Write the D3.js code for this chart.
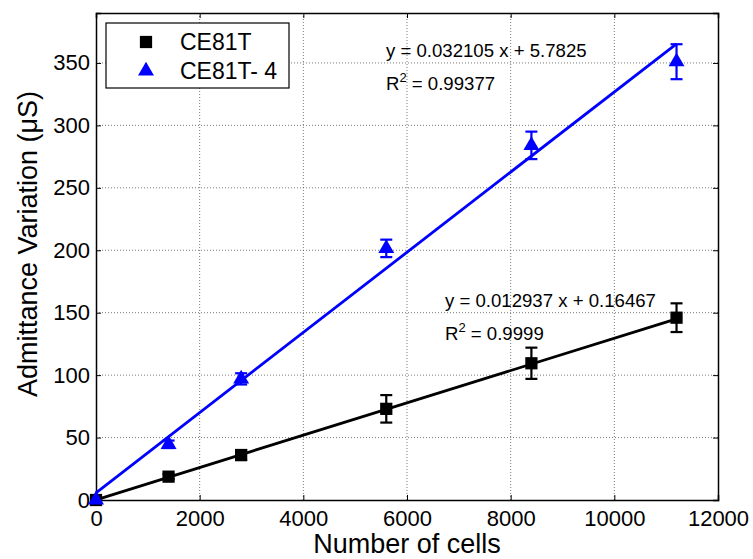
<!DOCTYPE html>
<html><head><meta charset="utf-8">
<script src="https://cdn.jsdelivr.net/npm/d3@7"></script>
<style>body{margin:0;background:#fff}svg{display:block;font-family:"Liberation Sans",Arial,sans-serif}</style>
</head><body>
<script>
const cells = [0, 1400, 2800, 5600, 8400, 11200];
const ce81t = [0, 18.7, 36, 73, 109.5, 146];
const ce81tErr = [0, 2, 4, 11, 12.5, 11.5];
const ce81t4 = [0, 44.6, 97, 201.5, 284, 351];
const ce81t4Err = [0, 3, 4.5, 7, 11, 14];
const fitBlack = {slope: 0.012937, intercept: 0.16467};
const fitBlue = {slope: 0.032105, intercept: 5.7825};
const xTicks = [0, 2000, 4000, 6000, 8000, 10000, 12000];
const yTicks = [0, 50, 100, 150, 200, 250, 300, 350];

const W = 753, H = 559;
const m = {l: 96, r: 35, t: 13, b: 59};
const svg = d3.select("body").append("svg").attr("width", W).attr("height", H);
const x = d3.scaleLinear().domain([0, 12000]).range([m.l, W - m.r]);
const y = d3.scaleLinear().domain([0, 390]).range([H - m.b, m.t]);

// grid
const g = svg.append("g");
g.selectAll(".gx").data(xTicks.slice(1, -1)).join("line")
  .attr("x1", d => x(d)).attr("x2", d => x(d)).attr("y1", y(0)).attr("y2", y(390))
  .attr("stroke", "#555").attr("stroke-width", 0.8).attr("stroke-dasharray", "1,2");
g.selectAll(".gy").data(yTicks.slice(1)).join("line")
  .attr("y1", d => y(d)).attr("y2", d => y(d)).attr("x1", x(0)).attr("x2", x(12000))
  .attr("stroke", "#555").attr("stroke-width", 0.8).attr("stroke-dasharray", "1,2");

// axes
const axB = svg.append("g").attr("transform", `translate(0,${y(0)})`)
  .call(d3.axisBottom(x).tickValues(xTicks).tickSize(-5).tickPadding(10).tickFormat(d3.format("d")));
const axL = svg.append("g").attr("transform", `translate(${x(0)},0)`)
  .call(d3.axisLeft(y).tickValues(yTicks).tickSize(-5).tickPadding(6).tickFormat(d3.format("d")));
const axT = svg.append("g").attr("transform", `translate(0,${y(390)})`)
  .call(d3.axisTop(x).tickValues(xTicks).tickSize(-5).tickFormat(""));
const axR = svg.append("g").attr("transform", `translate(${x(12000)},0)`)
  .call(d3.axisRight(y).tickValues(yTicks).tickSize(-5).tickFormat(""));
[axB, axL, axT, axR].forEach(a => {
  a.select(".domain").attr("stroke", "#000").attr("stroke-width", 1.5);
  a.selectAll(".tick line").attr("stroke", "#000").attr("stroke-width", 1);
  a.selectAll(".tick text").attr("fill", "#000").attr("font-size", 22).attr("font-family", "Liberation Sans, Arial, sans-serif");
});
axB.selectAll(".tick text").attr("dy", "0.71em");

// fit lines
function fitLine(f, color) {
  svg.append("line")
    .attr("x1", x(cells[0])).attr("y1", y(f.intercept + f.slope * cells[0]))
    .attr("x2", x(cells[cells.length - 1])).attr("y2", y(f.intercept + f.slope * cells[cells.length - 1]))
    .attr("stroke", color).attr("stroke-width", 2.8);
}
fitLine(fitBlack, "#000");
fitLine(fitBlue, "#0000ff");

function errorBars(vals, errs, color) {
  const gg = svg.append("g").attr("stroke", color).attr("stroke-width", 2.2);
  cells.forEach((c, i) => {
    if (errs[i] <= 0) return;
    const cx = x(c), y1 = y(vals[i] - errs[i]), y2 = y(vals[i] + errs[i]);
    gg.append("line").attr("x1", cx).attr("x2", cx).attr("y1", y1).attr("y2", y2);
    gg.append("line").attr("x1", cx - 6).attr("x2", cx + 6).attr("y1", y1).attr("y2", y1);
    gg.append("line").attr("x1", cx - 6).attr("x2", cx + 6).attr("y1", y2).attr("y2", y2);
  });
}
errorBars(ce81t, ce81tErr, "#000");
errorBars(ce81t4, ce81t4Err, "#0000ff");

const sq = d3.symbol().type(d3.symbolSquare).size(150);
const tri = d3.symbol().type(d3.symbolTriangle).size(110);
svg.append("g").selectAll("path").data(cells).join("path")
  .attr("transform", (d, i) => `translate(${x(d)},${y(ce81t[i])})`).attr("d", sq).attr("fill", "#000");
svg.append("g").selectAll("path").data(cells).join("path")
  .attr("transform", (d, i) => `translate(${x(d)},${y(ce81t4[i])})`).attr("d", tri).attr("fill", "#0000ff");

// equations
function eq(xp, yp, f, r2) {
  svg.append("text").attr("x", xp).attr("y", yp).attr("font-size", 18.6).attr("fill", "#000")
    .text(`y = ${f.slope} x + ${f.intercept}`);
  const t2 = svg.append("text").attr("x", xp).attr("y", yp + 33).attr("font-size", 18.6).attr("fill", "#000");
  t2.append("tspan").text("R");
  t2.append("tspan").attr("dy", -8).attr("font-size", 13).text("2");
  t2.append("tspan").attr("dy", 8).text(" = " + r2);
}
eq(386, 57, fitBlue, "0.99377");
eq(445, 307, fitBlack, "0.9999");

// legend
const lg = svg.append("g");
lg.append("rect").attr("x", 106).attr("y", 23).attr("width", 183).attr("height", 65)
  .attr("fill", "#fff").attr("stroke", "#000").attr("stroke-width", 1.2);
lg.append("path").attr("d", sq).attr("transform", "translate(146,42)").attr("fill", "#000");
lg.append("path").attr("d", tri).attr("transform", "translate(146,71)").attr("fill", "#0000ff");
lg.append("text").attr("x", 180).attr("y", 50).attr("font-size", 23).text("CE81T");
lg.append("text").attr("x", 180).attr("y", 79).attr("font-size", 23).text("CE81T- 4");

// axis titles
svg.append("text").attr("x", 407).attr("y", 553).attr("text-anchor", "middle")
  .attr("font-size", 27).text("Number of cells");
svg.append("text").attr("transform", `translate(37,244) rotate(-90)`)
  .attr("text-anchor", "middle").attr("font-size", 27).text("Admittance Variation (\u03bcS)");
</script>
</body></html>
